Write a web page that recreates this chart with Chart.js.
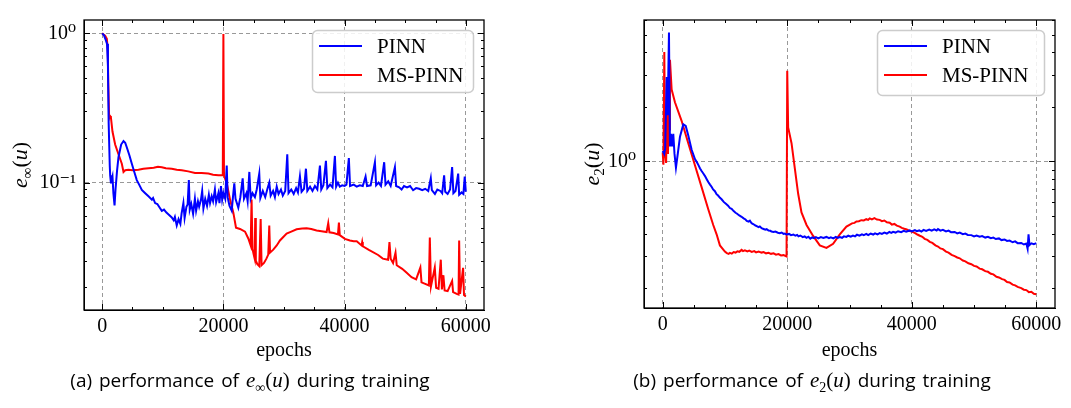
<!DOCTYPE html>
<html>
<head>
<meta charset="utf-8">
<script src="https://cdn.jsdelivr.net/npm/chart.js@4.4.1/dist/chart.umd.min.js"></script>
<style>
  body { margin: 0; background: #fff; width: 1071px; height: 408px; position: relative; overflow: hidden; }
  canvas { position: absolute; top: 0; }
  #chartA { left: 0; }
  #chartB { left: 560px; }
  .cap { position: absolute; top: 367px; font-family: "Open Sans", sans-serif; font-size: 19px; word-spacing: 2px; color: #000; text-align: center; white-space: nowrap; }
  .cap .m { font-family: "Liberation Serif", serif; font-size: 21px; word-spacing: 0; }
  .cap sub { font-size: 14px; }
</style>
</head>
<body>
<canvas id="chartA" width="500" height="370"></canvas>
<canvas id="chartB" width="511" height="370"></canvas>
<div class="cap" style="left:0;width:500px">(a) performance of <span class="m"><i>e</i><sub>∞</sub>(<i>u</i>)</span> during training</div>
<div class="cap" style="left:562px;width:500px">(b) performance of <span class="m"><i>e</i><sub>2</sub>(<i>u</i>)</span> during training</div>
<script>
// ---- data ----
const seriesNames = ['PINN', 'MS-PINN'];
const xTicks = [0, 20000, 40000, 60000];
const xTickLabels = ['0', '20000', '40000', '60000'];

// (a) e_inf(u)
const pinnInfEpochs = [0, 300, 600, 800, 950, 1070, 1250, 1320, 1450, 1550, 1700, 1850, 2040, 2200, 2450, 2690, 3130, 3520, 3800, 4070, 4500, 4890, 5300, 5710, 6100, 6540, 7100, 7640, 8200, 8400, 8730, 9100, 9500, 9840, 10200, 10600, 11000, 11480, 11800, 12000, 12300, 12600, 12900, 13100, 13400, 13600, 13900, 14100, 14300, 14450, 14700, 15000, 15300, 15500, 15800, 16000, 16300, 16500, 16700, 17000, 17300, 17600, 17800, 18070, 18300, 18600, 18800, 19170, 19350, 19600, 19800, 20000, 20300, 20550, 20700, 21000, 21370, 21600, 21800, 22000, 22460, 22800, 23180, 23400, 23800, 24000, 24280, 24500, 24800, 25200, 25500, 25920, 26100, 26500, 26900, 27300, 27570, 27800, 28200, 28500, 28800, 29100, 29500, 29800, 30200, 30540, 30750, 31200, 31600, 32000, 32300, 32630, 32900, 33300, 33620, 33850, 34300, 34700, 35100, 35500, 35930, 36150, 36500, 36920, 37150, 37600, 38000, 38400, 38600, 38900, 39200, 39600, 40000, 40300, 40700, 40900, 41500, 42000, 42500, 43000, 43460, 43700, 44300, 45000, 45200, 45600, 46000, 46530, 46750, 47200, 47600, 48300, 48500, 49000, 49400, 49800, 50300, 50800, 51300, 51800, 52300, 52800, 53300, 53800, 54220, 54400, 54900, 55300, 55800, 56100, 56420, 56600, 57000, 57400, 57740, 57950, 58300, 58740, 58900, 59300, 59600, 59820, 60000];
const pinnInfValues = [1.0, 0.97, 0.9, 0.85, 0.6, 0.25, 0.13, 0.112, 0.099, 0.104, 0.11, 0.085, 0.0705, 0.09, 0.12, 0.148, 0.18, 0.19, 0.185, 0.172, 0.152, 0.134, 0.118, 0.104, 0.097, 0.0895, 0.085, 0.081, 0.077, 0.079, 0.073, 0.072, 0.068, 0.0647, 0.066, 0.063, 0.061, 0.0585, 0.056, 0.059, 0.0517, 0.057, 0.053, 0.062, 0.073, 0.058, 0.069, 0.0715, 0.104, 0.066, 0.072, 0.062, 0.078, 0.065, 0.075, 0.069, 0.077, 0.088, 0.067, 0.078, 0.07, 0.083, 0.073, 0.081, 0.075, 0.09, 0.074, 0.085, 0.073, 0.095, 0.077, 0.085, 0.078, 0.13, 0.08, 0.07, 0.065, 0.082, 0.099, 0.078, 0.068, 0.08, 0.107, 0.078, 0.085, 0.075, 0.118, 0.078, 0.085, 0.08, 0.09, 0.115, 0.079, 0.088, 0.08, 0.092, 0.1, 0.082, 0.088, 0.08, 0.094, 0.084, 0.09, 0.082, 0.088, 0.155, 0.085, 0.09, 0.084, 0.092, 0.086, 0.11, 0.087, 0.091, 0.124, 0.088, 0.094, 0.088, 0.095, 0.09, 0.13, 0.09, 0.096, 0.14, 0.092, 0.097, 0.093, 0.151, 0.094, 0.1, 0.094, 0.096, 0.095, 0.097, 0.146, 0.095, 0.097, 0.094, 0.096, 0.095, 0.11, 0.095, 0.096, 0.137, 0.096, 0.1, 0.095, 0.137, 0.097, 0.102, 0.095, 0.127, 0.095, 0.093, 0.09, 0.095, 0.093, 0.095, 0.089, 0.092, 0.091, 0.089, 0.091, 0.088, 0.107, 0.089, 0.084, 0.09, 0.088, 0.085, 0.112, 0.087, 0.084, 0.09, 0.127, 0.085, 0.088, 0.115, 0.083, 0.086, 0.084, 0.11, 0.087];

const msInfEpochs = [0, 300, 490, 770, 930, 1000, 1150, 1300, 1430, 1700, 2140, 2690, 3240, 3520, 3800, 4340, 5000, 5980, 6800, 7640, 8500, 9200, 9840, 10500, 11480, 12300, 13130, 14200, 15320, 16400, 17520, 18300, 19170, 19900, 20000, 20100, 20550, 21100, 21640, 22080, 22740, 23570, 24110, 24500, 24650, 24800, 25000, 25160, 25250, 25350, 25600, 25920, 26150, 26300, 26700, 27100, 27400, 27570, 27700, 28230, 28800, 29330, 30430, 31200, 32080, 33000, 33730, 34500, 35380, 36200, 37030, 37300, 37500, 38200, 38900, 39060, 39200, 40050, 40870, 41500, 42000, 42800, 42900, 43000, 44000, 45530, 46300, 47180, 47400, 47600, 48000, 48400, 48600, 49500, 50200, 51040, 51800, 52500, 52690, 53300, 53900, 54060, 54250, 54880, 55100, 55500, 55870, 56050, 56300, 56500, 57000, 57740, 57900, 58500, 58800, 58900, 59050, 59550, 59700, 60000];
const msInfValues = [1.0, 0.975, 0.965, 0.92, 0.77, 0.47, 0.27, 0.28, 0.276, 0.22, 0.18, 0.155, 0.134, 0.118, 0.121, 0.122, 0.121, 0.122, 0.124, 0.125, 0.126, 0.128, 0.127, 0.125, 0.124, 0.122, 0.121, 0.119, 0.116, 0.116, 0.115, 0.113, 0.112, 0.112, 0.99, 0.112, 0.099, 0.077, 0.063, 0.05, 0.049, 0.047, 0.0423, 0.038, 0.077, 0.036, 0.033, 0.031, 0.058, 0.03, 0.0285, 0.0276, 0.057, 0.028, 0.029, 0.031, 0.033, 0.0517, 0.034, 0.0356, 0.038, 0.041, 0.0456, 0.047, 0.0487, 0.0493, 0.0495, 0.049, 0.0479, 0.0473, 0.0467, 0.0536, 0.0465, 0.046, 0.045, 0.054, 0.0445, 0.042, 0.041, 0.0405, 0.0405, 0.038, 0.04, 0.0375, 0.0355, 0.0328, 0.031, 0.0305, 0.04, 0.031, 0.029, 0.034, 0.028, 0.0265, 0.025, 0.0233, 0.0225, 0.027, 0.0215, 0.021, 0.0205, 0.043, 0.0202, 0.027, 0.0198, 0.0195, 0.0305, 0.0193, 0.024, 0.019, 0.0188, 0.022, 0.0185, 0.018, 0.0178, 0.041, 0.018, 0.0269, 0.0177, 0.0173];

// (b) e_2(u)
const pinnL2Epochs = [0, 250, 400, 640, 800, 1010, 1170, 1330, 1500, 1700, 1900, 2130, 2450, 2780, 3310, 3700, 4110, 4650, 5180, 5500, 5700, 6000, 6250, 6500, 6800, 7050, 7320, 7600, 7850, 8100, 8390, 8650, 8900, 9200, 9460, 9800, 10200, 10500, 10800, 11070, 11400, 11700, 11900, 12300, 12670, 13000, 13300, 13500, 13800, 14000, 14280, 14600, 14900, 15100, 15400, 15600, 15880, 16200, 16500, 16700, 17000, 17300, 17480, 17800, 18100, 18500, 18800, 19100, 19400, 19620, 19900, 20300, 20600, 21000, 21300, 21600, 21800, 22100, 22500, 22800, 23100, 23400, 23700, 24000, 24300, 24600, 25000, 25400, 25800, 26300, 26700, 27000, 27400, 27800, 28100, 28440, 28800, 29100, 29500, 29800, 30200, 30560, 30900, 31200, 31600, 32000, 32300, 32700, 33000, 33400, 33800, 34100, 34500, 34850, 35200, 35600, 36000, 36400, 36700, 37000, 37400, 37800, 38300, 38700, 39100, 39670, 40000, 40500, 40800, 41200, 41540, 41900, 42300, 42800, 43200, 43600, 44000, 44210, 44600, 45000, 45500, 45900, 46300, 46890, 47300, 47700, 48200, 48600, 49000, 49560, 50000, 50400, 50900, 51300, 51800, 52230, 52700, 53100, 53500, 54000, 54400, 54900, 55300, 55700, 56200, 56600, 57000, 57580, 58000, 58400, 58600, 58750, 58900, 59200, 59600, 60000];
const pinnL2Values = [1.14, 1.1, 1.18, 2.92, 1.8, 5.15, 1.21, 1.42, 1.21, 1.42, 1.1, 0.924, 1.12, 1.37, 1.6, 1.57, 1.39, 1.16, 1.03, 0.99, 0.96, 0.915, 0.885, 0.86, 0.83, 0.8, 0.77, 0.745, 0.725, 0.7, 0.685, 0.66, 0.648, 0.63, 0.618, 0.598, 0.582, 0.57, 0.553, 0.547, 0.532, 0.521, 0.516, 0.503, 0.495, 0.485, 0.478, 0.47, 0.466, 0.471, 0.456, 0.45, 0.443, 0.44, 0.434, 0.438, 0.428, 0.424, 0.42, 0.423, 0.415, 0.414, 0.41, 0.408, 0.41, 0.404, 0.402, 0.405, 0.398, 0.4, 0.395, 0.398, 0.392, 0.395, 0.389, 0.393, 0.386, 0.39, 0.382, 0.386, 0.379, 0.384, 0.375, 0.381, 0.377, 0.382, 0.376, 0.382, 0.378, 0.383, 0.377, 0.381, 0.376, 0.383, 0.378, 0.382, 0.379, 0.386, 0.383, 0.389, 0.384, 0.39, 0.386, 0.394, 0.389, 0.396, 0.392, 0.398, 0.392, 0.4, 0.395, 0.401, 0.396, 0.402, 0.398, 0.405, 0.4, 0.408, 0.403, 0.409, 0.405, 0.412, 0.407, 0.414, 0.409, 0.416, 0.411, 0.418, 0.412, 0.416, 0.41, 0.419, 0.414, 0.421, 0.415, 0.422, 0.416, 0.423, 0.415, 0.419, 0.411, 0.415, 0.407, 0.408, 0.401, 0.405, 0.397, 0.4, 0.393, 0.392, 0.386, 0.39, 0.384, 0.387, 0.38, 0.384, 0.377, 0.38, 0.373, 0.376, 0.368, 0.371, 0.364, 0.366, 0.358, 0.362, 0.354, 0.355, 0.348, 0.352, 0.33, 0.396, 0.345, 0.353, 0.349, 0.354];

const msL2Epochs = [0, 120, 260, 400, 550, 700, 850, 950, 1050, 1170, 1440, 1970, 3050, 4110, 5180, 6250, 7320, 8120, 8660, 9190, 9990, 10300, 10600, 10800, 11100, 11400, 11700, 12000, 12300, 12670, 12900, 13200, 13600, 13900, 14300, 14700, 15000, 15400, 15880, 16200, 16600, 17000, 17400, 17800, 18200, 18600, 19000, 19400, 19890, 20000, 20150, 20690, 21220, 21750, 22290, 23100, 24160, 25230, 26300, 27370, 28440, 29510, 30000, 30400, 30800, 31120, 31500, 31900, 32300, 32700, 33000, 33250, 33600, 34000, 34400, 34850, 35200, 35600, 36000, 36460, 36800, 37200, 37600, 38060, 38400, 38800, 39200, 39670, 40000, 40470, 40900, 41300, 41700, 42070, 42500, 42900, 43300, 43800, 44210, 44600, 45000, 45500, 45900, 46400, 46890, 47300, 47700, 48200, 48600, 49100, 49560, 50000, 50400, 50900, 51300, 51800, 52230, 52700, 53100, 53600, 54000, 54500, 54900, 55300, 55700, 56200, 56600, 57000, 57580, 58000, 58400, 58800, 59200, 59600, 60000];
const msL2Values = [1.12, 0.96, 4.01, 1.1, 0.98, 1.96, 1.1, 2.0, 1.5, 3.64, 2.49, 2.12, 1.67, 1.26, 0.953, 0.721, 0.545, 0.446, 0.396, 0.344, 0.318, 0.312, 0.309, 0.313, 0.31, 0.316, 0.314, 0.319, 0.317, 0.325, 0.32, 0.323, 0.319, 0.322, 0.317, 0.32, 0.315, 0.318, 0.314, 0.316, 0.311, 0.313, 0.309, 0.311, 0.306, 0.308, 0.303, 0.304, 0.299, 3.16, 1.54, 1.26, 0.916, 0.665, 0.523, 0.446, 0.388, 0.344, 0.333, 0.351, 0.396, 0.437, 0.447, 0.455, 0.458, 0.466, 0.468, 0.474, 0.472, 0.48, 0.476, 0.485, 0.479, 0.486, 0.478, 0.476, 0.468, 0.472, 0.461, 0.459, 0.448, 0.452, 0.442, 0.437, 0.43, 0.425, 0.421, 0.413, 0.41, 0.403, 0.395, 0.389, 0.384, 0.374, 0.369, 0.36, 0.355, 0.344, 0.339, 0.331, 0.328, 0.318, 0.314, 0.305, 0.3, 0.295, 0.292, 0.284, 0.281, 0.274, 0.271, 0.265, 0.263, 0.256, 0.254, 0.248, 0.246, 0.24, 0.238, 0.231, 0.229, 0.224, 0.222, 0.216, 0.215, 0.209, 0.207, 0.203, 0.2, 0.196, 0.195, 0.19, 0.191, 0.186, 0.185];

// y ticks
const yTicksA = [0.1, 1];
const yTickLabelsA = ['10⁻¹', '10⁰'];
const yMinorA = [0.02, 0.03, 0.04, 0.05, 0.06, 0.07, 0.08, 0.09, 0.2, 0.3, 0.4, 0.5, 0.6, 0.7, 0.8, 0.9];
const yTicksB = [1];
const yTickLabelsB = ['10⁰'];
const yMinorB = [0.2, 0.3, 0.4, 0.5, 0.6, 0.7, 0.8, 0.9, 2, 3, 4, 5, 6];
const xMinor = [5000, 10000, 15000, 25000, 30000, 35000, 45000, 50000, 55000];

const SERIF = "'Liberation Serif', 'DejaVu Serif', serif";
Chart.defaults.font.family = SERIF;
Chart.defaults.font.size = 20;
Chart.defaults.color = '#000';

function points(xs, ys) {
  return xs.map((x, i) => ({ x: x, y: ys[i] }));
}

// frame, inward ticks on four sides, y title with subscript, legend box
const decorPlugin = {
  id: 'decor',
  afterDraw(chart, args, o) {
    const { ctx, chartArea: a } = chart;
    const xs = chart.scales.x, ys = chart.scales.y;
    ctx.save();
    ctx.strokeStyle = '#000';
    ctx.lineWidth = 1;
    ctx.beginPath();
    const xt = (v, L) => {
      const p = Math.round(xs.getPixelForValue(v)) + 0.5;
      ctx.moveTo(p, a.bottom); ctx.lineTo(p, a.bottom - L);
      ctx.moveTo(p, a.top); ctx.lineTo(p, a.top + L);
    };
    const yt = (v, L) => {
      const p = Math.round(ys.getPixelForValue(v)) + 0.5;
      ctx.moveTo(a.left, p); ctx.lineTo(a.left + L, p);
      ctx.moveTo(a.right, p); ctx.lineTo(a.right - L, p);
    };
    xTicks.forEach(v => xt(v, 6));
    xMinor.forEach(v => xt(v, 3));
    o.yMajor.forEach(v => yt(v, 6));
    o.yMinor.forEach(v => yt(v, 3));
    ctx.stroke();
    ctx.lineWidth = 1.3;
    ctx.strokeRect(a.left, a.top, a.width, a.height);

    // y axis title  e_sub(u), rotated
    const parts = [
      { t: 'e', f: 'italic 22px ' + SERIF, dy: 0 },
      { t: o.sub, f: '15px ' + SERIF, dy: 5 },
      { t: '(', f: '22px ' + SERIF, dy: 0 },
      { t: 'u', f: 'italic 22px ' + SERIF, dy: 0 },
      { t: ')', f: '22px ' + SERIF, dy: 0 }
    ];
    let total = 0;
    parts.forEach(p => { ctx.font = p.f; p.w = ctx.measureText(p.t).width; total += p.w; });
    ctx.translate(o.titleX, (a.top + a.bottom) / 2);
    ctx.rotate(-Math.PI / 2);
    ctx.fillStyle = '#000';
    ctx.textBaseline = 'alphabetic';
    let cx = -total / 2;
    parts.forEach(p => { ctx.font = p.f; ctx.fillText(p.t, cx, 7 + p.dy); cx += p.w; });
    ctx.setTransform(1, 0, 0, 1, 0, 0);

    // legend
    const bw = o.legendW, bh = o.legendH;
    const bx = a.right - 11 - bw, by = a.top + 10;
    ctx.beginPath();
    ctx.roundRect(bx + 0.5, by + 0.5, bw, bh, 5);
    ctx.fillStyle = 'rgba(255,255,255,0.85)';
    ctx.fill();
    ctx.strokeStyle = '#cccccc';
    ctx.lineWidth = 1.5;
    ctx.stroke();
    ctx.font = '21px ' + SERIF;
    ctx.textBaseline = 'middle';
    chart.data.datasets.forEach((ds, i) => {
      const ly = by + 16 + i * 29;
      ctx.strokeStyle = ds.borderColor;
      ctx.lineWidth = 2;
      ctx.beginPath();
      ctx.moveTo(bx + 7, ly); ctx.lineTo(bx + 50, ly);
      ctx.stroke();
      ctx.fillStyle = '#000';
      ctx.fillText(ds.label, bx + 65, ly + 1);
    });
    ctx.restore();
  }
};

function makeChart(id, d) {
  const gridDash = { display: true, color: '#000', width: 1, dash: [4, 3] };
  return new Chart(document.getElementById(id), {
    type: 'line',
    data: {
      datasets: [
        { label: seriesNames[0], data: points(d.px, d.py), borderColor: '#0000ff', borderWidth: 2, pointRadius: 0, tension: 0 },
        { label: seriesNames[1], data: points(d.mx, d.my), borderColor: '#ff0000', borderWidth: 2, pointRadius: 0, tension: 0 }
      ]
    },
    plugins: [decorPlugin],
    options: {
      responsive: false,
      animation: false,
      devicePixelRatio: 1,
      layout: { padding: { left: 0, top: d.top, right: d.right, bottom: 0 } },
      plugins: {
        legend: { display: false },
        tooltip: { enabled: false },
        decor: { yMajor: d.yTicks, yMinor: d.yMinor, sub: d.sub, titleX: d.titleX, legendW: d.legendW, legendH: d.legendH }
      },
      scales: {
        x: {
          type: 'linear',
          min: -3000,
          max: 63000,
          afterBuildTicks: s => { s.ticks = xTicks.map(v => ({ value: v })); },
          afterFit: s => { s.height = d.xHeight; },
          ticks: {
            callback: (v) => xTickLabels[xTicks.indexOf(v)],
            font: { family: SERIF, size: 20 },
            color: '#000',
            padding: 5,
            maxRotation: 0
          },
          grid: { color: '#999999', lineWidth: 1, drawTicks: false },
          border: gridDash,
          title: { display: true, text: 'epochs', font: { family: SERIF, size: 20 }, color: '#000', padding: { top: 0, bottom: 7 } }
        },
        y: {
          type: 'logarithmic',
          min: d.yMin,
          max: d.yMax,
          afterBuildTicks: s => { s.ticks = d.yTicks.map(v => ({ value: v })); },
          afterFit: s => { s.width = 84; },
          ticks: {
            callback: (v) => d.yLabels[d.yTicks.indexOf(v)],
            font: { family: SERIF, size: 20 },
            color: '#000',
            padding: 8
          },
          grid: { color: '#999999', lineWidth: 1, drawTicks: false },
          border: gridDash
        }
      }
    }
  });
}

makeChart('chartA', {
  px: pinnInfEpochs, py: pinnInfValues, mx: msInfEpochs, my: msInfValues,
  yMin: 0.01404, yMax: 1.228, yTicks: yTicksA, yLabels: yTickLabelsA, yMinor: yMinorA,
  top: 12, right: 16, xHeight: 60, sub: '∞', titleX: 20, legendW: 161, legendH: 62
});
makeChart('chartB', {
  px: pinnL2Epochs, py: pinnL2Values, mx: msL2Epochs, my: msL2Values,
  yMin: 0.1553, yMax: 6.03, yTicks: yTicksB, yLabels: yTickLabelsB, yMinor: yMinorB,
  top: 3, right: 16, xHeight: 62, sub: '2', titleX: 32, legendW: 167, legendH: 65
});
</script>
</body>
</html>
